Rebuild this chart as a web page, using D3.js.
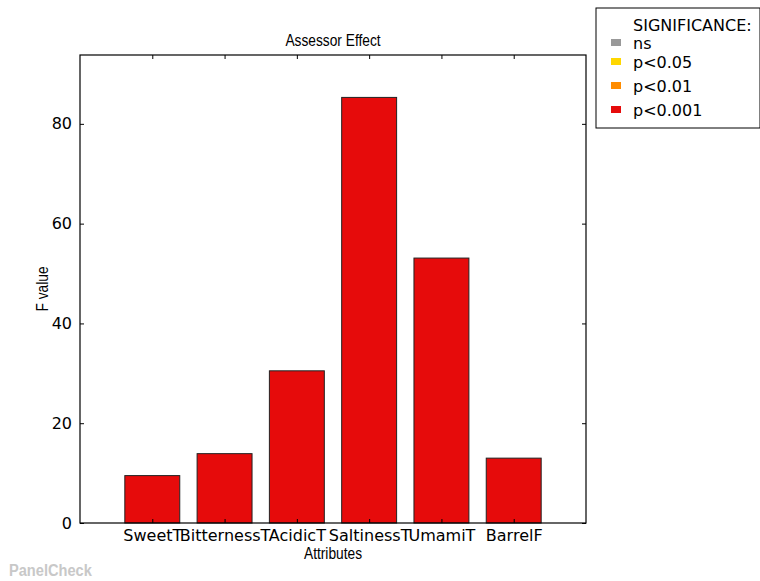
<!DOCTYPE html>
<html>
<head>
<meta charset="utf-8">
<script src="https://cdn.jsdelivr.net/npm/d3@7"></script>
<style>
  body { margin: 0; background: #fff; }
  text { font-family: "DejaVu Sans", sans-serif; }
  .narrow { font-family: "Liberation Sans", sans-serif; }
</style>
</head>
<body>
<div id="chart"></div>
<script>
// data
var attributes = ["SweetT", "BitternessT", "AcidicT", "SaltinessT", "UmamiT", "BarrelF"];
var fValues = [9.5, 13.9, 30.5, 85.3, 53.1, 13.0];
var yTicks = [0, 20, 40, 60, 80];
var sigLabels = ["ns", "p<0.05", "p<0.01", "p<0.001"];
var sigColors = ["#999999", "#ffd700", "#ff8c00", "#e60b0b"];

var W = 760, H = 581;
var margin = {top: 55, right: 174, bottom: 58, left: 80},
    width = W - margin.left - margin.right,
    height = H - margin.top - margin.bottom;

var svg = d3.select("#chart")
  .append("svg")
    .attr("width", W)
    .attr("height", H);

var g = svg.append("g")
    .attr("transform", "translate(" + margin.left + "," + margin.top + ")");

// x: bars centred at 1..6, domain 0..7
var x = d3.scaleLinear().domain([0, 7]).range([0, width]);
var y = d3.scaleLinear().domain([0, 93.8]).range([height, 0]);
var barW = 0.76;

// bars
g.selectAll("rect.bar")
  .data(attributes)
  .enter().append("rect")
    .attr("class", "bar")
    .attr("x", function(d, i) { return x(i + 1 - barW / 2); })
    .attr("width", x(barW) - x(0))
    .attr("y", function(d, i) { return y(fValues[i]); })
    .attr("height", function(d, i) { return y(0) - y(fValues[i]); })
    .attr("fill", "#e60b0b")
    .attr("stroke", "#222")
    .attr("stroke-width", 1);

// axes, ticks inward
var yAxis = g.append("g")
  .call(d3.axisLeft(y).tickValues(yTicks).tickSizeInner(-4).tickSizeOuter(0).tickPadding(8));
yAxis.select(".domain").remove();
yAxis.selectAll("text").style("font-size", "16px").attr("fill", "#000");

g.append("g")
  .attr("transform", "translate(" + width + ",0)")
  .call(d3.axisRight(y).tickValues(yTicks).tickSizeInner(-4).tickSizeOuter(0).tickFormat(""))
  .select(".domain").remove();

var xAxis = g.append("g")
  .attr("transform", "translate(0," + height + ")")
  .call(d3.axisBottom(x).tickValues(d3.range(1, 7)).tickSizeInner(-4).tickSizeOuter(0).tickPadding(7)
    .tickFormat(function(d) { return attributes[d - 1]; }));
xAxis.select(".domain").remove();
xAxis.selectAll("text").style("font-size", "16px").attr("fill", "#000");

g.append("g")
  .call(d3.axisTop(x).tickValues(d3.range(1, 7)).tickSizeInner(-4).tickSizeOuter(0).tickFormat(""))
  .select(".domain").remove();

// frame
g.append("rect")
  .attr("width", width)
  .attr("height", height)
  .attr("fill", "none")
  .attr("stroke", "#000")
  .attr("stroke-width", 1.2);

// title and axis labels (condensed look)
function narrowText(cx, cy, rot, txt, size) {
  svg.append("text")
    .attr("class", "narrow")
    .attr("transform", "translate(" + cx + "," + cy + ")rotate(" + rot + ")scale(0.86,1)")
    .attr("text-anchor", "middle")
    .style("font-size", size + "px")
    .text(txt);
}
narrowText(margin.left + width / 2, 46, 0, "Assessor Effect", 16);
narrowText(margin.left + width / 2, 559, 0, "Attributes", 16);
narrowText(48, margin.top + height / 2, -90, "F value", 16);

// legend
var leg = svg.append("g").attr("transform", "translate(596,8)");
leg.append("rect")
  .attr("width", 164)
  .attr("height", 120)
  .attr("fill", "#fff")
  .attr("stroke", "#000")
  .attr("stroke-width", 1);
leg.append("text")
  .attr("x", 37)
  .attr("y", 23)
  .style("font-size", "16px")
  .text("SIGNIFICANCE:");
var entryY = [35, 54, 78, 102];
var items = leg.selectAll("g.item")
  .data(sigLabels)
  .enter().append("g")
    .attr("class", "item")
    .attr("transform", function(d, i) { return "translate(0," + entryY[i] + ")"; });
items.append("rect")
  .attr("x", 15).attr("y", -4)
  .attr("width", 10).attr("height", 7)
  .attr("fill", function(d, i) { return sigColors[i]; });
items.append("text")
  .attr("x", 37)
  .attr("y", 6)
  .style("font-size", "16px")
  .text(function(d) { return d; });

// watermark
svg.append("text")
  .attr("transform", "translate(9,576)scale(0.86,1)")
  .style("font-family", "Liberation Sans, sans-serif")
  .style("font-weight", "bold")
  .style("font-size", "17px")
  .attr("fill", "#c8c8c8")
  .text("PanelCheck");
</script>
</body>
</html>
